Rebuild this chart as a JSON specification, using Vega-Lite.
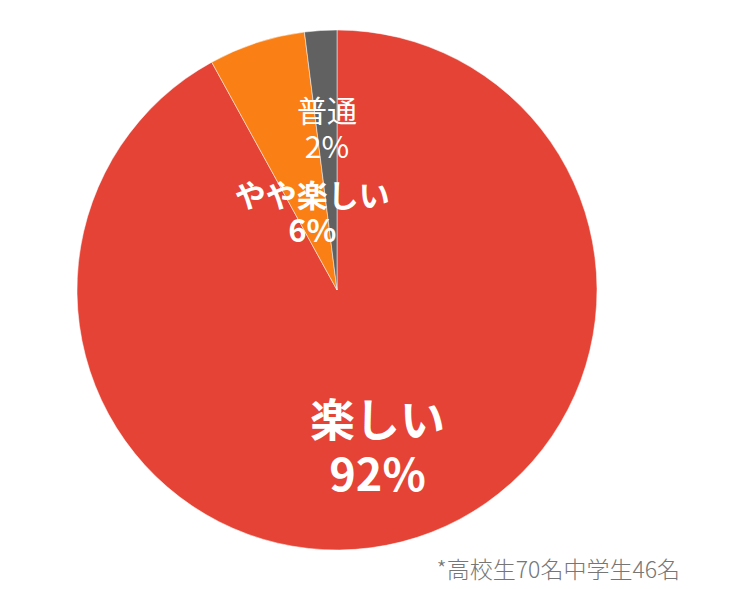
{
  "$schema": "https://vega.github.io/schema/vega-lite/v6.json",
  "autosize": "none",
  "width": 674,
  "height": 580,
  "padding": {"left": 0, "top": 0, "right": 55, "bottom": 9},
  "background": "#ffffff",
  "title": {
    "text": "*高校生70名中学生46名",
    "orient": "bottom",
    "anchor": "end",
    "offset": -20,
    "dx": 6,
    "font": "Noto Sans CJK JP",
    "fontSize": 23,
    "fontWeight": 300,
    "color": "#767676"
  },
  "data": {
    "values": [
      {"label": "楽しい", "value": 92, "text": "楽しい\n92%"},
      {"label": "やや楽しい", "value": 6, "text": "やや楽しい\n6%"},
      {"label": "普通", "value": 2, "text": "普通\n2%"}
    ]
  },
  "encoding": {
    "theta": {"field": "value", "type": "quantitative", "stack": true},
    "order": {"field": "value", "type": "quantitative", "sort": "descending"}
  },
  "layer": [
    {
      "mark": {"type": "arc", "outerRadius": 260, "stroke": "#ffffff", "strokeWidth": 0.5},
      "encoding": {
        "color": {
          "field": "label",
          "type": "nominal",
          "legend": null,
          "scale": {
            "domain": ["楽しい", "やや楽しい", "普通"],
            "range": ["#E54335", "#FA7F14", "#616161"]
          }
        }
      }
    },
    {
      "mark": {"type": "text", "radius": 163, "dy": -25, "font": "Noto Sans CJK JP", "fontSize": 45, "fontWeight": "bold", "color": "#ffffff", "lineBreak": "\n", "lineHeight": 54, "align": "center", "baseline": "middle"},
      "encoding": {
        "text": {"condition": {"test": "datum.label === '楽しい'", "field": "text"}, "value": ""}
      }
    },
    {
      "mark": {"type": "text", "radius": 80, "dy": -16, "font": "Noto Sans CJK JP", "fontSize": 31, "fontWeight": "bold", "color": "#ffffff", "lineBreak": "\n", "lineHeight": 35, "align": "center", "baseline": "middle"},
      "encoding": {
        "text": {"condition": {"test": "datum.label === 'やや楽しい'", "field": "text"}, "value": ""}
      }
    },
    {
      "mark": {"type": "text", "radius": 160, "dy": -17, "font": "Noto Sans CJK JP", "fontSize": 30, "fontWeight": "normal", "color": "#ffffff", "lineBreak": "\n", "lineHeight": 36, "align": "center", "baseline": "middle"},
      "encoding": {
        "text": {"condition": {"test": "datum.label === '普通'", "field": "text"}, "value": ""}
      }
    }
  ],
  "config": {
    "view": {"stroke": null}
  }
}
